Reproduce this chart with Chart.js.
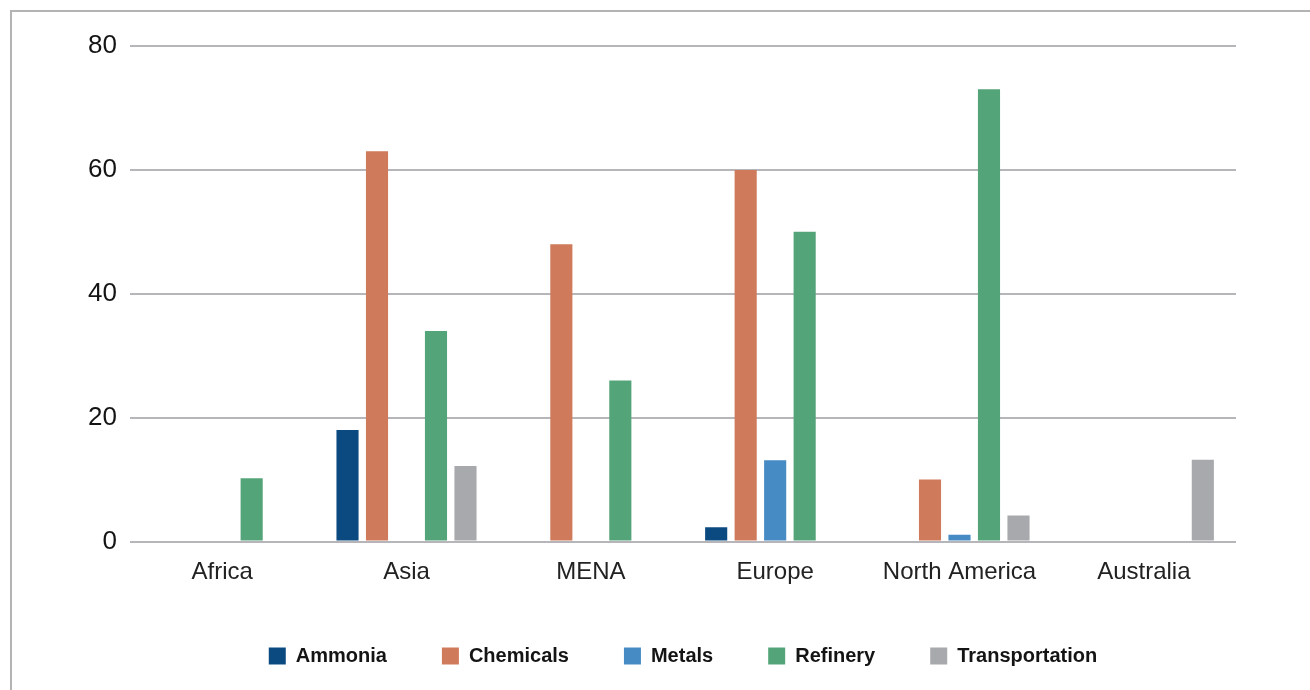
<!DOCTYPE html>
<html>
<head>
<meta charset="utf-8">
<title>Hydrogen demand by region and sector</title>
<script src="https://cdn.jsdelivr.net/npm/chart.js@4.4.1/dist/chart.umd.min.js"></script>
<style>
  html, body { margin: 0; padding: 0; background: #ffffff; }
  #wrap { position: relative; width: 1310px; height: 690px; overflow: hidden; }
  #frame {
    position: absolute; left: 10px; top: 10px; right: -10px; bottom: -10px;
    border-left: 2px solid #b3b3b3; border-top: 2px solid #b3b3b3;
  }
  #chart { position: absolute; left: 0; top: 0; }
</style>
</head>
<body>
<div id="wrap">
  <div id="frame"></div>
  <canvas id="chart" width="1310" height="690"></canvas>
</div>
<script>
// Regions on the horizontal axis
const regions = ['Africa', 'Asia', 'MENA', 'Europe', 'North America', 'Australia'];

// Demand per sector, one value per region (null = no bar)
const ammonia        = [null, 18, null, 2.3, null, null];
const chemicals      = [null, 63, 48, 60, 10, null];
const metals         = [null, null, null, 13.1, 1.1, null];
const refinery       = [10.2, 34, 26, 50, 73, null];
const transportation = [null, 12.2, null, null, 4.2, 13.2];

// Value axis ticks
const yTicks = [0, 20, 40, 60, 80];

const seriesNames  = ['Ammonia', 'Chemicals', 'Metals', 'Refinery', 'Transportation'];
const seriesValues = [ammonia, chemicals, metals, refinery, transportation];
const seriesColors = ['#0b4a80', '#cf7a5a', '#468bc4', '#54a479', '#a8a9ad'];

const datasets = seriesNames.map((name, i) => ({
  label: name,
  data: seriesValues[i],
  backgroundColor: seriesColors[i],
  borderWidth: 0,
  categoryPercentage: 0.8,
  barPercentage: 0.75
}));

const fontFamily = '"Liberation Sans", Arial, Helvetica, sans-serif';

new Chart(document.getElementById('chart'), {
  type: 'bar',
  data: { labels: regions, datasets },
  options: {
    responsive: false,
    animation: false,
    layout: { padding: { left: 0, right: 74, top: 46, bottom: 14 } },
    plugins: {
      tooltip: { enabled: false },
      legend: {
        position: 'bottom',
        fullSize: false,
        labels: {
          boxWidth: 17,
          boxHeight: 17,
          padding: 55,
          color: '#141414',
          font: { family: fontFamily, size: 20, weight: 'bold' }
        }
      }
    },
    scales: {
      x: {
        grid: { display: false },
        border: { display: false },
        ticks: {
          color: '#222222',
          padding: 8,
          maxRotation: 0,
          autoSkip: false,
          font: { family: fontFamily, size: 24 }
        },
        afterFit: (scale) => { scale.height = 49.5; }
      },
      y: {
        min: 0,
        max: 80,
        afterBuildTicks: (scale) => { scale.ticks = yTicks.map(v => ({ value: v })); },
        grid: { color: '#b6b6ba', lineWidth: 2, drawTicks: false },
        border: { display: false },
        ticks: {
          color: '#141414',
          padding: 13,
          font: { family: fontFamily, size: 26 }
        },
        afterFit: (scale) => { scale.width = 130; }
      }
    }
  }
});
</script>
</body>
</html>
